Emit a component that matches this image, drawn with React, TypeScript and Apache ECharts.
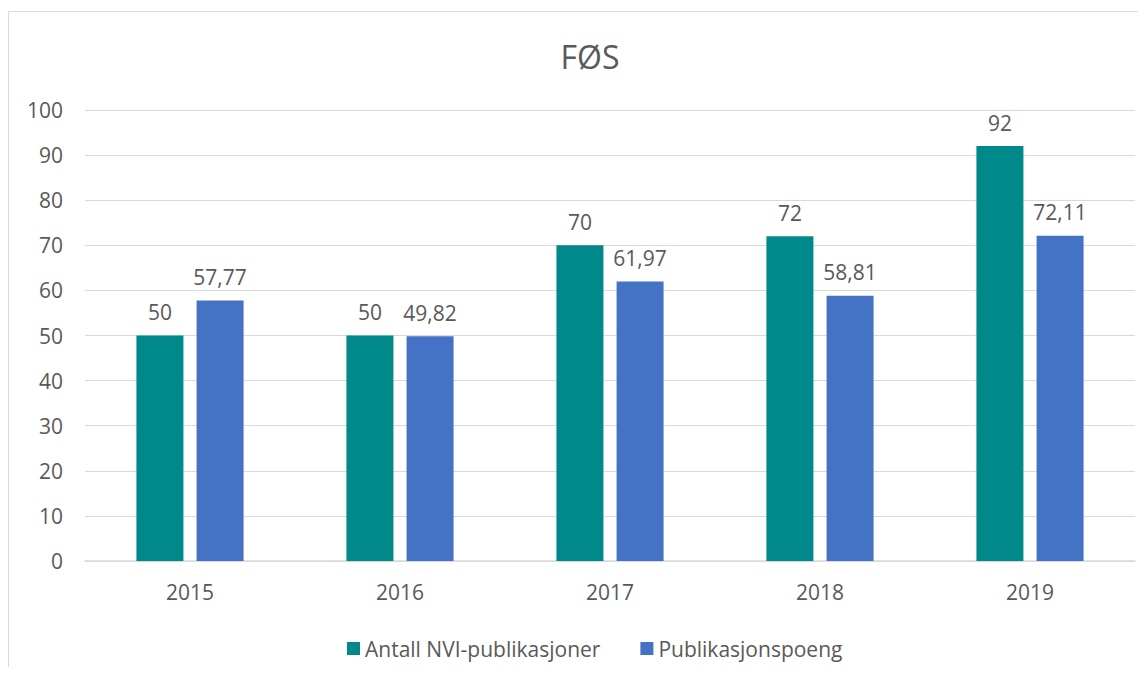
import React, { useEffect, useRef } from "react";
import * as echarts from "echarts";

const title = "FØS";
const years = ["2015", "2016", "2017", "2018", "2019"];
const seriesNames = ["Antall NVI-publikasjoner", "Publikasjonspoeng"];
const antall = [50, 50, 70, 72, 92];
const poeng = [57.77, 49.82, 61.97, 58.81, 72.11];
const colors = ["#00898A", "#4472C4"];
const textColor = "#595959";
const font = "'Open Sans', 'Liberation Sans', sans-serif";

const fmt = (v: number) => (Number.isInteger(v) ? String(v) : v.toFixed(2).replace(".", ","));

export default function App() {
  const ref = useRef<HTMLDivElement>(null);
  useEffect(() => {
    const chart = echarts.init(ref.current!, null, { renderer: "svg" });
    const label = {
      show: true,
      position: "top" as const,
      distance: 13,
      color: textColor,
      fontSize: 21,
      fontFamily: font,
      formatter: (p: any) => fmt(p.value),
    };
    chart.setOption({
      animation: false,
      backgroundColor: "#ffffff",
      textStyle: { fontFamily: font },
      title: {
        text: title,
        left: 577,
        textAlign: "center",
        top: 27,
        textStyle: { color: textColor, fontSize: 32, fontWeight: "normal", fontFamily: font },
      },
      graphic: [
        {
          type: "rect",
          shape: { x: 0.5, y: 3.5, width: 1160, height: 700 },
          style: { fill: "none", stroke: "#d9d9d9", lineWidth: 1 },
          silent: true,
        },
      ],
      legend: {
        top: 625,
        left: 334,
        itemWidth: 13,
        itemHeight: 13,
        itemGap: 40,
        icon: "rect",
        textStyle: { color: textColor, fontSize: 21, fontFamily: font },
        data: seriesNames,
      },
      grid: { left: 77, right: 3, top: 102, bottom: 106 },
      xAxis: {
        type: "category",
        data: years,
        axisLine: { lineStyle: { color: "#d9d9d9", width: 1.5 } },
        axisTick: { show: false },
        axisLabel: { color: textColor, fontSize: 21, margin: 20, fontFamily: font },
      },
      yAxis: {
        type: "value",
        min: 0,
        max: 100,
        interval: 10,
        axisLine: { show: false },
        axisTick: { show: false },
        splitLine: { lineStyle: { color: "#d9d9d9", width: 1 } },
        axisLabel: { color: textColor, fontSize: 21, margin: 22, fontFamily: font },
      },
      series: [
        {
          name: seriesNames[0],
          type: "bar",
          data: antall,
          barWidth: 47,
          barGap: "28%",
          itemStyle: { color: colors[0] },
          label,
        },
        {
          name: seriesNames[1],
          type: "bar",
          data: poeng,
          barWidth: 47,
          barGap: "28%",
          itemStyle: { color: colors[1] },
          label,
        },
      ],
    });
    return () => chart.dispose();
  }, []);
  return <div ref={ref} style={{ width: 1130, height: 659 }} />;
}
